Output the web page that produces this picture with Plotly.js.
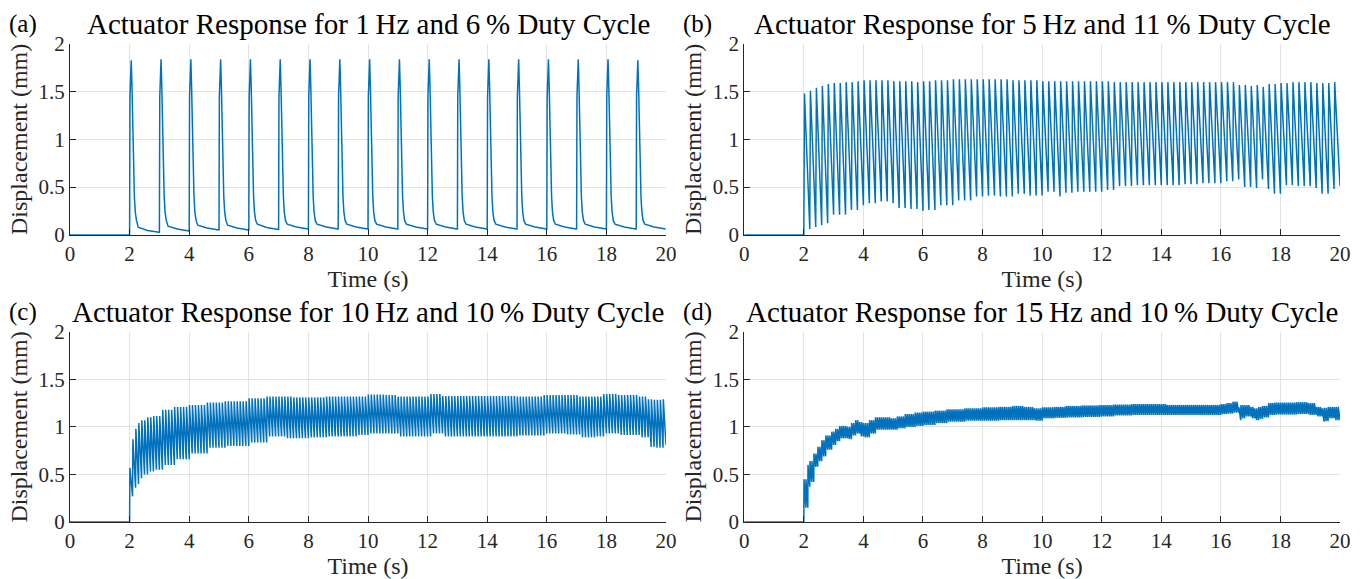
<!DOCTYPE html>
<html>
<head>
<meta charset="utf-8">
<script src="https://cdn.plot.ly/plotly-3.0.1.min.js"></script>
<style>html,body{margin:0;padding:0;background:#fff;}#chart{width:1362px;height:579px;}</style>
</head>
<body>
<div id="chart"></div>
<script>
// ---------------- data ----------------
const panelTitles = [
  "Actuator Response for 1\u2009Hz and 6\u2009% Duty Cycle",
  "Actuator Response for 5\u2009Hz and 11\u2009% Duty Cycle",
  "Actuator Response for 10\u2009Hz and 10\u2009% Duty Cycle",
  "Actuator Response for 15\u2009Hz and 10\u2009% Duty Cycle"
];
const panelLabels = ["(a)", "(b)", "(c)", "(d)"];
const xTicks = [0, 2, 4, 6, 8, 10, 12, 14, 16, 18, 20];
const yTicks = [0, 0.5, 1, 1.5, 2];
const yTickText = ["0", "0.5", "1", "1.5", "2"];
const xTitle = "Time (s)";
const yTitle = "Displacement (mm)";
const startTime = 2;   // actuation starts (s)
const endTime = 20;

// (a) 1 Hz, 6 % duty: one pulse per second, read pulse by pulse
const aPulseStart = [2, 3, 4, 5, 6, 7, 8, 9, 10, 11, 12, 13, 14, 15, 16, 17, 18, 19];
const aPeak  = [1.83, 1.84, 1.84, 1.84, 1.84, 1.84, 1.84, 1.84, 1.84, 1.84, 1.84, 1.84, 1.84, 1.84, 1.84, 1.84, 1.84, 1.83];
const aKnee  = [0.08, 0.09, 0.10, 0.10, 0.11, 0.11, 0.11, 0.11, 0.11, 0.11, 0.11, 0.11, 0.11, 0.11, 0.11, 0.11, 0.11, 0.11];
const aMidVal = [0.045, 0.06, 0.07, 0.07, 0.075, 0.08, 0.08, 0.08, 0.08, 0.08, 0.08, 0.08, 0.08, 0.08, 0.08, 0.08, 0.08, 0.08];
const aTail  = [0.025, 0.04, 0.05, 0.05, 0.055, 0.06, 0.06, 0.06, 0.06, 0.06, 0.06, 0.06, 0.06, 0.06, 0.06, 0.06, 0.06, 0.06];
// shape of the fast part of a pulse: time after pulse start (s) and displacement (mm)
const aShapeDt  = [0.012, 0.03, 0.055, 0.08, 0.105, 0.13, 0.16, 0.19, 0.23];
const aShapeVal = [1.45, 1.80, 1.80, 1.55, 1.10, 0.70, 0.40, 0.24, 0.15];
const aKneeDt = 0.29, aMidDt = 0.6, aTailDt = 0.99;

// (b) 5 Hz, 11 % duty: envelope of peaks / troughs read along time
const bFreq = 5, bDuty = 0.11;
const bEnvT    = [2.0, 2.2, 2.4, 2.6, 2.8, 3.0, 3.4, 3.8, 4.0, 4.4, 4.8, 5.0, 5.4, 5.8, 6.0, 6.4, 7.0, 7.6, 8.0, 8.4, 9.0, 9.4, 10.0, 10.4, 10.6, 11.0, 12.0, 12.4, 13.0, 14.0, 14.6, 15.2, 16.0, 16.4, 16.6, 17.0, 17.2, 17.4, 17.6, 18.0, 18.4, 19.0, 19.2, 19.6, 19.8];
const bPeak    = [1.48, 1.51, 1.54, 1.56, 1.58, 1.59, 1.60, 1.61, 1.62, 1.62, 1.62, 1.61, 1.61, 1.60, 1.61, 1.62, 1.63, 1.63, 1.63, 1.63, 1.62, 1.62, 1.61, 1.61, 1.61, 1.61, 1.61, 1.60, 1.60, 1.60, 1.60, 1.60, 1.60, 1.60, 1.57, 1.56, 1.57, 1.55, 1.58, 1.59, 1.60, 1.60, 1.59, 1.59, 1.60];
const bTrough  = [0.06, 0.08, 0.10, 0.12, 0.21, 0.21, 0.26, 0.31, 0.33, 0.35, 0.33, 0.28, 0.27, 0.25, 0.26, 0.31, 0.36, 0.40, 0.41, 0.40, 0.43, 0.41, 0.45, 0.40, 0.44, 0.45, 0.47, 0.51, 0.52, 0.52, 0.53, 0.54, 0.56, 0.58, 0.50, 0.49, 0.58, 0.48, 0.43, 0.52, 0.51, 0.49, 0.43, 0.48, 0.51];

// (c) 10 Hz, 10 % duty
const cFreq = 10, cDuty = 0.10;
const cEnvT    = [2.0, 2.1, 2.2, 2.3, 2.4, 2.6, 2.8, 3.1, 3.5, 4.0, 4.6, 5.2, 6.0, 6.6, 7.2, 7.5, 8.0, 8.6, 9.6, 10.0, 10.6, 11.0, 11.7, 12.1, 12.5, 14.0, 15.0, 15.9, 16.6, 17.1, 17.6, 17.9, 18.4, 19.1, 19.4, 19.6, 19.9];
const cPeak    = [0.57, 0.87, 0.98, 1.04, 1.07, 1.10, 1.115, 1.18, 1.21, 1.23, 1.255, 1.27, 1.30, 1.32, 1.32, 1.31, 1.31, 1.32, 1.32, 1.34, 1.335, 1.32, 1.32, 1.345, 1.325, 1.325, 1.32, 1.335, 1.335, 1.32, 1.32, 1.345, 1.335, 1.32, 1.29, 1.285, 1.29];
const cTrough  = [0.27, 0.36, 0.40, 0.46, 0.50, 0.53, 0.55, 0.60, 0.66, 0.72, 0.78, 0.80, 0.835, 0.90, 0.88, 0.88, 0.89, 0.90, 0.915, 0.93, 0.93, 0.90, 0.90, 0.93, 0.90, 0.90, 0.91, 0.93, 0.92, 0.89, 0.90, 0.93, 0.915, 0.89, 0.79, 0.78, 0.81];

// (d) 15 Hz, 10 % duty
const dFreq = 15, dDuty = 0.10;
const dEnvT    = [2.0, 2.07, 2.13, 2.2, 2.27, 2.33, 2.45, 2.55, 2.7, 2.88, 3.05, 3.2, 3.44, 3.55, 3.67, 3.85, 4.0, 4.15, 4.34, 4.6, 4.9, 5.1, 5.34, 5.7, 6.0, 6.4, 6.8, 7.4, 8.0, 8.5, 9.0, 9.4, 9.7, 10.0, 10.4, 10.8, 11.3, 11.9, 12.4, 13.0, 14.2, 15.3, 16.0, 16.2, 16.4, 16.55, 16.65, 16.8, 16.95, 17.1, 17.25, 17.4, 17.6, 17.8, 18.5, 18.9, 19.2, 19.35, 19.45, 19.6, 19.8, 19.95];
const dPeak    = [0.45, 0.55, 0.60, 0.64, 0.68, 0.72, 0.79, 0.86, 0.91, 0.95, 0.98, 1.01, 1.00, 1.04, 1.07, 1.05, 1.04, 1.07, 1.10, 1.10, 1.09, 1.11, 1.135, 1.15, 1.16, 1.17, 1.185, 1.195, 1.205, 1.21, 1.22, 1.21, 1.195, 1.205, 1.21, 1.22, 1.225, 1.23, 1.235, 1.24, 1.23, 1.23, 1.24, 1.25, 1.265, 1.205, 1.23, 1.23, 1.21, 1.195, 1.21, 1.22, 1.25, 1.255, 1.26, 1.25, 1.21, 1.195, 1.20, 1.21, 1.21, 1.23];
const dTrough  = [0.15, 0.30, 0.37, 0.42, 0.50, 0.58, 0.64, 0.69, 0.76, 0.81, 0.85, 0.88, 0.87, 0.91, 0.93, 0.90, 0.89, 0.93, 0.97, 0.97, 0.97, 0.985, 1.00, 1.01, 1.02, 1.04, 1.055, 1.065, 1.065, 1.07, 1.07, 1.07, 1.065, 1.09, 1.095, 1.10, 1.105, 1.11, 1.12, 1.125, 1.125, 1.125, 1.135, 1.14, 1.15, 1.07, 1.09, 1.11, 1.09, 1.07, 1.085, 1.10, 1.125, 1.13, 1.135, 1.125, 1.11, 1.055, 1.06, 1.09, 1.07, 1.11];

// ---------------- build the traces ----------------
function seriesA() {
  const x = [0, startTime], y = [0, 0];
  aPulseStart.forEach((t0, k) => {
    x.push(t0); y.push(k === 0 ? 0 : aTail[k - 1]);
    aShapeDt.forEach((dt, j) => {
      x.push(t0 + dt);
      y.push(j === 1 || j === 2 ? aPeak[k] : aShapeVal[j]);
    });
    x.push(t0 + aKneeDt); y.push(aKnee[k]);
    x.push(t0 + aMidDt); y.push(aMidVal[k]);
    x.push(Math.min(t0 + aTailDt, endTime)); y.push(aTail[k]);
  });
  return {x, y};
}
// pulse train: the peak and trough of each cycle are taken from the
// envelope value read for the time span the cycle falls in
function seriesPulsed(freq, duty, envT, peak, trough) {
  const x = [0, startTime], y = [0, 0];
  const period = 1 / freq;
  const n = Math.round((endTime - startTime) * freq);
  for (let k = 0; k < n; k++) {
    const t0 = startTime + k * period;
    let i = 0;
    while (i + 1 < envT.length && envT[i + 1] <= t0 + 1e-6) i++;
    x.push(t0 + duty * period); y.push(peak[i]);
    x.push(t0 + period); y.push(trough[i]);
  }
  return {x, y};
}

const lineStyle = {color: '#0072BD', width: 1.5};
const A = seriesA();
const B = seriesPulsed(bFreq, bDuty, bEnvT, bPeak, bTrough);
const C = seriesPulsed(cFreq, cDuty, cEnvT, cPeak, cTrough);
const D = seriesPulsed(dFreq, dDuty, dEnvT, dPeak, dTrough);
const axisPairs = [['x', 'y'], ['x2', 'y2'], ['x3', 'y3'], ['x4', 'y4']];
const traces = [A, B, C, D].map((s, i) => ({
  type: 'scatter', mode: 'lines', x: s.x, y: s.y,
  xaxis: axisPairs[i][0], yaxis: axisPairs[i][1],
  line: lineStyle, hoverinfo: 'skip'
}));

// ---------------- layout ----------------
const FONT = 'Liberation Serif, Times New Roman, serif';
const ink = '#262626';
function xAxis(domain, anchor) {
  return {
    domain, anchor, range: [0, 20], tickvals: xTicks, ticktext: xTicks.map(String),
    showline: true, linecolor: ink, linewidth: 1, ticks: 'inside', ticklen: 6, tickcolor: ink,
    showgrid: true, gridcolor: '#e3e3e3', gridwidth: 1, zeroline: false,
    tickfont: {family: FONT, size: 21, color: ink},
    title: {text: xTitle, font: {family: FONT, size: 24, color: ink}, standoff: 0}
  };
}
function yAxis(domain, anchor) {
  return {
    domain, anchor, range: [0, 2], tickvals: yTicks, ticktext: yTickText,
    showline: true, linecolor: ink, linewidth: 1, ticks: 'inside', ticklen: 6, tickcolor: ink,
    showgrid: true, gridcolor: '#e3e3e3', gridwidth: 1, zeroline: false,
    tickfont: {family: FONT, size: 21, color: ink},
    title: {text: yTitle, font: {family: FONT, size: 24, color: ink}, standoff: 4}
  };
}
const xL = [0, 0.4693], xR = [0.5309, 1];
const yT = [0.601, 1], yB = [0, 0.398];

const annotations = [];
axisPairs.forEach((p, i) => {
  annotations.push({
    xref: p[0] + ' domain', yref: p[1] + ' domain', x: 0.5, y: 1, yshift: 20,
    xanchor: 'center', yanchor: 'middle', showarrow: false,
    text: panelTitles[i], font: {family: FONT, size: 29, color: '#000'}
  });
  annotations.push({
    xref: p[0] + ' domain', yref: p[1] + ' domain', x: -0.106, y: 1, yshift: 20,
    xanchor: 'left', yanchor: 'middle', showarrow: false,
    text: panelLabels[i], font: {family: FONT, size: 25, color: '#000'}
  });
});

const layout = {
  width: 1362, height: 579,
  margin: {l: 70, r: 22, t: 44, b: 57},
  paper_bgcolor: '#fff', plot_bgcolor: '#fff',
  showlegend: false,
  font: {family: FONT, color: ink},
  xaxis: xAxis(xL, 'y'), yaxis: yAxis(yT, 'x'),
  xaxis2: xAxis(xR, 'y2'), yaxis2: yAxis(yT, 'x2'),
  xaxis3: xAxis(xL, 'y3'), yaxis3: yAxis(yB, 'x3'),
  xaxis4: xAxis(xR, 'y4'), yaxis4: yAxis(yB, 'x4'),
  annotations
};

Plotly.newPlot('chart', traces, layout, {staticPlot: true, displayModeBar: false});
</script>
</body>
</html>
